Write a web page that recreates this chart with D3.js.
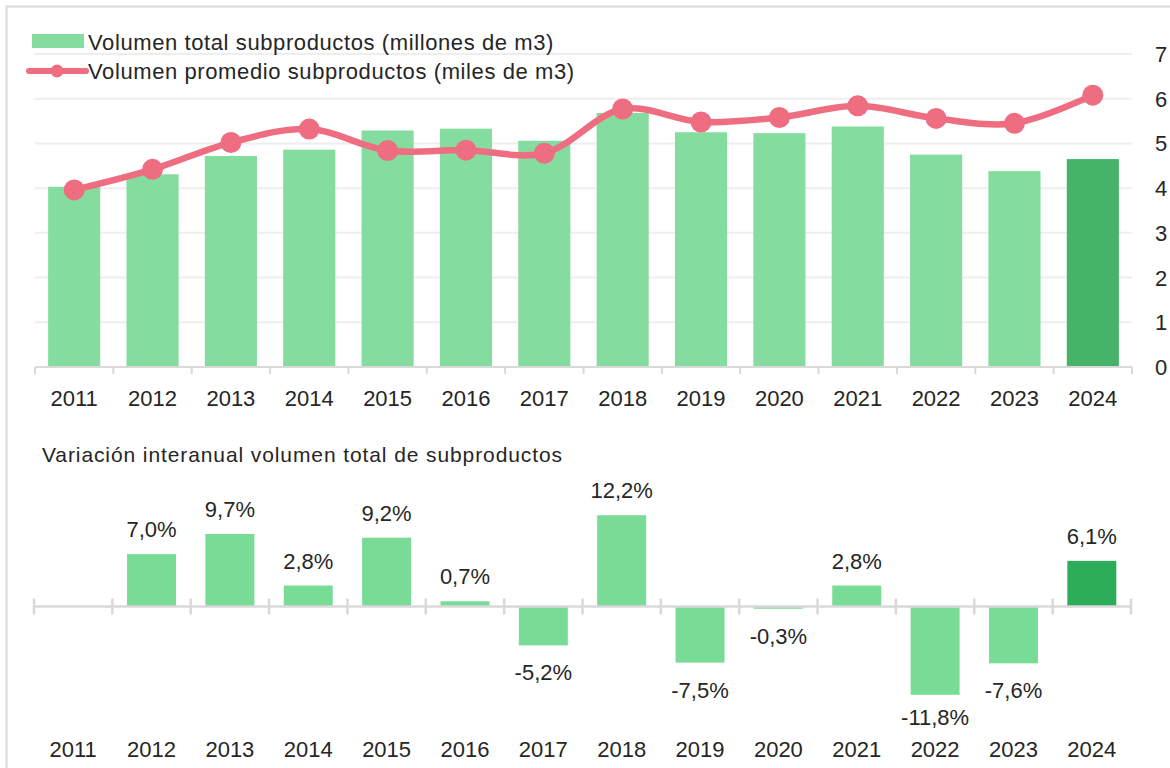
<!DOCTYPE html>
<html>
<head>
<meta charset="utf-8">
<script src="https://cdn.jsdelivr.net/npm/d3@7"></script>
<style>
  body { margin: 0; background: #fff; }
  svg text { font-family: "Liberation Sans", Arial, sans-serif; fill: #262626; }
</style>
</head>
<body>
<svg id="chart" width="1170" height="768"></svg>
<script>
// data
var years = ["2011", "2012", "2013", "2014", "2015", "2016", "2017", "2018", "2019", "2020", "2021", "2022", "2023", "2024"];
var volumenTotal = [4.03, 4.31, 4.72, 4.86, 5.29, 5.33, 5.06, 5.68, 5.25, 5.23, 5.38, 4.75, 4.38, 4.65];
var volumenPromedio = [3.96, 4.42, 5.02, 5.32, 4.84, 4.85, 4.78, 5.77, 5.48, 5.58, 5.84, 5.56, 5.45, 6.08];
var variacion = [null, 7.0, 9.7, 2.8, 9.2, 0.7, -5.2, 12.2, -7.5, -0.3, 2.8, -11.8, -7.6, 6.1];
var yTicks = [0, 1, 2, 3, 4, 5, 6, 7];

var lightGreen = "#84dd9f", darkGreen = "#45b368";
var lightGreen2 = "#78db96", darkGreen2 = "#2ead58";
var red = "#ee6d80", axisGray = "#d9d9d9", gridGray = "#eeeeee";

var svg = d3.select("#chart");

// outer frame
svg.append("rect")
  .attr("x", 6.5).attr("y", 6.5)
  .attr("width", 1200).attr("height", 800)
  .attr("fill", "none").attr("stroke", axisGray).attr("stroke-width", 2);

// ---------- top chart ----------
var x = d3.scaleBand().domain(years).range([35, 1132]).paddingInner(0.335).paddingOuter(0.1675);
var y = d3.scaleLinear().domain([0, 7]).range([367, 54]);

// gridlines
svg.append("g").selectAll("line")
  .data(yTicks.filter(d => d > 0))
  .enter().append("line")
  .attr("x1", 35).attr("x2", 1132)
  .attr("y1", d => y(d)).attr("y2", d => y(d))
  .attr("stroke", gridGray).attr("stroke-width", 2);

// right axis labels
svg.append("g").selectAll("text")
  .data(yTicks)
  .enter().append("text")
  .attr("x", 1155).attr("y", d => y(d) + 8)
  .style("font-size", "22px")
  .text(d => d);

// bars
svg.append("g").selectAll("rect")
  .data(volumenTotal)
  .enter().append("rect")
  .attr("x", (d, i) => x(years[i]))
  .attr("y", d => y(d))
  .attr("width", x.bandwidth())
  .attr("height", d => y(0) - y(d))
  .attr("fill", (d, i) => i == years.length - 1 ? darkGreen : lightGreen);

// x axis
var xAxisTop = svg.append("g");
xAxisTop.append("line")
  .attr("x1", 35).attr("x2", 1132).attr("y1", y(0)).attr("y2", y(0))
  .attr("stroke", axisGray).attr("stroke-width", 2);
xAxisTop.selectAll(".tick")
  .data(d3.range(years.length + 1))
  .enter().append("line")
  .attr("x1", i => 35 + i * x.step()).attr("x2", i => 35 + i * x.step())
  .attr("y1", y(0)).attr("y2", y(0) + 7)
  .attr("stroke", axisGray).attr("stroke-width", 2);
xAxisTop.selectAll("text")
  .data(years)
  .enter().append("text")
  .attr("x", d => x(d) + x.bandwidth() / 2)
  .attr("y", 406)
  .attr("text-anchor", "middle")
  .style("font-size", "22px")
  .text(d => d);

// smoothed line
var line = d3.line()
  .x((d, i) => x(years[i]) + x.bandwidth() / 2)
  .y(d => y(d))
  .curve(d3.curveCatmullRom);
svg.append("path")
  .datum(volumenPromedio)
  .attr("d", line)
  .attr("fill", "none").attr("stroke", red).attr("stroke-width", 6.5);
svg.append("g").selectAll("circle")
  .data(volumenPromedio)
  .enter().append("circle")
  .attr("cx", (d, i) => x(years[i]) + x.bandwidth() / 2)
  .attr("cy", d => y(d))
  .attr("r", 10.5)
  .attr("fill", red);

// legend
svg.append("rect").attr("x", 32).attr("y", 34).attr("width", 52).attr("height", 14).attr("fill", lightGreen);
svg.append("text").attr("x", 88).attr("y", 50).style("font-size", "22px").style("letter-spacing", "0.6px")
  .text("Volumen total subproductos (millones de m3)");
svg.append("line").attr("x1", 29).attr("x2", 86).attr("y1", 71).attr("y2", 71)
  .attr("stroke", red).attr("stroke-width", 6).attr("stroke-linecap", "round");
svg.append("circle").attr("cx", 57).attr("cy", 71).attr("r", 6.5).attr("fill", red);
svg.append("text").attr("x", 88).attr("y", 79).style("font-size", "22px").style("letter-spacing", "0.6px")
  .text("Volumen promedio subproductos (miles de m3)");

// ---------- bottom chart ----------
svg.append("text").attr("x", 42).attr("y", 462).style("font-size", "21px").style("letter-spacing", "0.9px")
  .text("Variación interanual volumen total de subproductos");

var x2 = d3.scaleBand().domain(years).range([34, 1131]).paddingInner(0.375).paddingOuter(0.1875);
var y2 = d3.scaleLinear().domain([-13, 13]).range([606.5 + 13 * 7.48, 606.5 - 13 * 7.48]);
var fmt = v => (v.toFixed(1)).replace(".", ",") + "%";
var varData = variacion.map((v, i) => ({ year: years[i], v: v })).filter(d => d.v !== null);

svg.append("g").selectAll("rect")
  .data(varData)
  .enter().append("rect")
  .attr("x", d => x2(d.year))
  .attr("y", d => y2(Math.max(0, d.v)))
  .attr("width", x2.bandwidth())
  .attr("height", d => Math.abs(y2(d.v) - y2(0)))
  .attr("fill", d => d.year == "2024" ? darkGreen2 : lightGreen2);

// zero axis with ticks crossing it
var xAxisBot = svg.append("g");
xAxisBot.append("line")
  .attr("x1", 34).attr("x2", 1131).attr("y1", y2(0)).attr("y2", y2(0))
  .attr("stroke", axisGray).attr("stroke-width", 2.5);
xAxisBot.selectAll(".tick")
  .data(d3.range(years.length + 1))
  .enter().append("line")
  .attr("x1", i => 34 + i * x2.step()).attr("x2", i => 34 + i * x2.step())
  .attr("y1", y2(0) - 8).attr("y2", y2(0) + 8)
  .attr("stroke", axisGray).attr("stroke-width", 2.5);

// value labels
svg.append("g").selectAll("text")
  .data(varData)
  .enter().append("text")
  .attr("x", d => x2(d.year) + x2.bandwidth() / 2)
  .attr("y", d => d.v >= 0 ? y2(d.v) - 17 : Math.min(y2(d.v) + 35, 725))
  .attr("text-anchor", "middle")
  .style("font-size", "22px")
  .text(d => fmt(d.v));

svg.append("g").selectAll("text.year")
  .data(years)
  .enter().append("text")
  .attr("x", d => x2(d) + x2.bandwidth() / 2)
  .attr("y", 757)
  .attr("text-anchor", "middle")
  .style("font-size", "22px")
  .text(d => d);
</script>
</body>
</html>
